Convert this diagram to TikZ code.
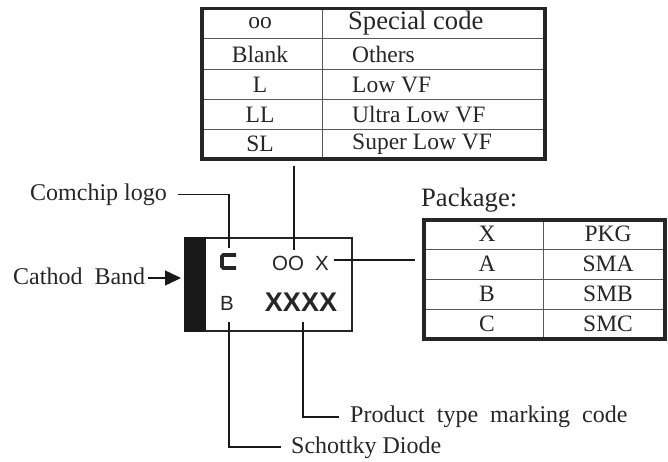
\documentclass[tikz,border=0pt]{standalone}
\usepackage{fontspec}
\setmainfont{Liberation Serif}
\newfontfamily\sansf{Liberation Sans}
\usetikzlibrary{arrows.meta}
\tikzset{
  x=1pt,y=-1pt,
  lbl/.style={inner sep=0pt,font=\fontsize{24}{24}\selectfont,text=black!85},
  cell/.style={inner sep=0pt,font=\fontsize{23.5}{24}\selectfont,text=black!85},
  big/.style={inner sep=0pt,font=\fontsize{26.6}{27}\selectfont,text=black!85},
  lead/.style={draw=black!90,line width=1.5pt},
  thick box/.style={draw=black!85,line width=3.5pt},
  rule/.style={draw=black!65,line width=.9pt},
  chip/.style={inner sep=0pt,font=\sansf\fontsize{20.5}{21}\selectfont,text=black!85},
}
\begin{document}
\begin{tikzpicture}
\useasboundingbox (0,0) rectangle (668,462);
% top table
\draw[rule] (322,9)--(322,159) (200,38)--(545,38) (200,69)--(545,69) (200,99)--(545,99) (200,129)--(545,129);
\draw[thick box] (202,8.5) rectangle (545,159);
\foreach \a/\b/\y/\n in {Blank/Others/54/a,L/Low VF/85/b,LL/Ultra Low VF/115/c,SL/Super Low VF/144/d}
  {\node[cell] (l\n) at (260,\y) {\a}; \node[cell,anchor=west] (r\n) at (352,\y) {\b};}
\node[cell] (loo) at (260,23) {oo};
\node[big,anchor=west] (roo) at (348,23) {Special code};
% package table
\node[big,anchor=west] (pk) at (421,200) {Package:};
\draw[rule] (543,220)--(543,339) (424,249)--(665,249) (424,279)--(665,279) (424,309)--(665,309);
\draw[thick box] (424,220) rectangle (665,339);
\foreach \a/\b/\y/\n in {X/PKG/234/a,A/SMA/264/b,B/SMB/294/c,C/SMC/324/d}
  {\node[cell] (pl\n) at (487,\y) {\a}; \node[cell] (pr\n) at (608,\y) {\b};}
% marking box
\draw[draw=black!85,line width=1.2pt] (185,238) rectangle (352,331);
\fill[black!90] (184,237) rectangle (206,332);
\node[chip] (oo) at (288,263) {OO};
\node[chip] (xm) at (322,263) {X};
\node[chip] (bm) at (227,303) {B};
\node[inner sep=0pt,font=\sansf\bfseries\fontsize{27}{27}\selectfont,text=black!85] (xx) at (301,302) {XXXX};
\draw[line width=3.6pt,black!85,rounded corners=1.5pt] (236,255)--(222,255)--(222,268)--(236,268);
\coordinate (logo) at (229,248);
% labels
\node[lbl,anchor=west] (cl) at (30,195) {Comchip logo};
\node[lbl,anchor=west] (cb) at (13,276) {Cathod\ \ Band};
\node[lbl,anchor=west] (pt) at (350,417) {Product\ \ type\ \ marking\ \ code};
\node[lbl,anchor=west] (sd) at (291,448) {Schottky Diode};
% leads
\coordinate (a1) at (178,194.5);
\draw[lead] (a1) -| (logo);
\coordinate (t1) at (294,166);
\coordinate (t2) at (294,250);
\draw[lead] (t1) -- (t2);
\coordinate (p1) at (334,260);
\coordinate (p2) at (415,260);
\draw[lead] (p1) -- (p2);
\coordinate (b1) at (148,278);
\coordinate (b2) at (181,278);
\draw[lead,-{Triangle[length=16pt,width=15pt]}] (b1) -- (b2);
\coordinate (s1) at (229,322);
\coordinate (s2) at (281,447);
\draw[lead] (s1) |- (s2);
\coordinate (q1) at (303,322);
\coordinate (q2) at (339,417);
\draw[lead] (q1) |- (q2);
\end{tikzpicture}
\end{document}
